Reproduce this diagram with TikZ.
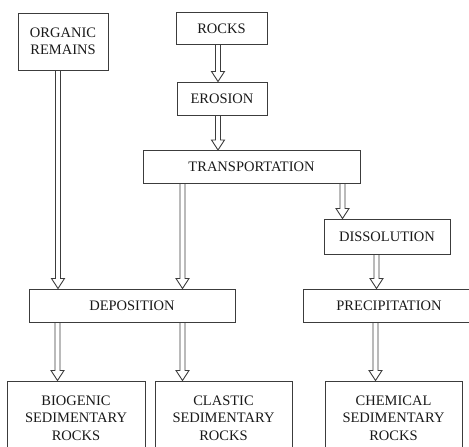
\documentclass[tikz,border=0pt]{standalone}
\usepackage{fontspec}
\setmainfont{Liberation Serif}
\usetikzlibrary{calc}
\definecolor{frame}{RGB}{60,60,60}
\tikzset{
  box/.style={rectangle, draw=frame, line width=1pt, align=center,
              inner sep=0pt, text=black!90, font=\fontsize{14.5}{17.5}\selectfont},
  hollow/.style={draw=frame, line width=0.9pt, line join=miter,
                 to path={let \p1=(\tikztostart), \p2=(\tikztotarget) in
                   (\x1-2.5pt,\y1) -- (\x1-2.5pt,\y2+10pt) -- (\x1-6.5pt,\y2+10pt)
                   -- (\x1,\y2) -- (\x1+6.5pt,\y2+10pt) -- (\x1+2.5pt,\y2+10pt)
                   -- (\x1+2.5pt,\y1)}},
}
\begin{document}
\begin{tikzpicture}[x=1pt, y=-1pt]
  \useasboundingbox (0,0) rectangle (469,447);
  \clip (0,0) rectangle (469,447);
  % top row
  \node[box, minimum width=90pt, minimum height=57pt] (organic) at (63,41.5) {ORGANIC\\REMAINS};
  \node[box, minimum width=91pt, minimum height=32pt] (rocks) at (221.5,28.5) {ROCKS};
  \node[box, minimum width=90pt, minimum height=33pt] (erosion) at (222,98.5) {EROSION};
  \node[box, minimum width=217pt, minimum height=33pt] (transport) at (251.5,167) {TRANSPORTATION};
  \node[box, minimum width=126pt, minimum height=35pt] (dissolution) at (387,236.5) {DISSOLUTION};
  % middle row
  \node[box, minimum width=206pt, minimum height=33pt] (deposition) at (132,305.5) {DEPOSITION};
  \node[box, minimum width=172pt, minimum height=33pt] (precipitation) at (389,305.5) {PRECIPITATION};
  % bottom row
  \node[box, minimum width=138pt, minimum height=74pt] (biogenic) at (76,418) {BIOGENIC\\SEDIMENTARY\\ROCKS};
  \node[box, minimum width=137pt, minimum height=74pt] (clastic) at (223.5,418) {CLASTIC\\SEDIMENTARY\\ROCKS};
  \node[box, minimum width=137pt, minimum height=74pt] (chemical) at (393.5,418) {CHEMICAL\\SEDIMENTARY\\ROCKS};
  % arrows
  \draw[hollow] ([xshift=-5pt]organic.south) to ([xshift=-5pt]organic.south |- deposition.north);
  \draw[hollow] ([xshift=-3.5pt]rocks.south) to ([xshift=-3.5pt]rocks.south |- erosion.north);
  \draw[hollow] ([xshift=-4pt]erosion.south) to ([xshift=-4pt]erosion.south |- transport.north);
  \draw[hollow] ([xshift=40pt]transport.south west) to ([xshift=40pt]transport.south west |- deposition.north);
  \draw[hollow] ([xshift=-18pt]transport.south east) to ([xshift=-18pt]transport.south east |- dissolution.north);
  \draw[hollow] ([xshift=53pt]dissolution.south west) to ([xshift=53pt]dissolution.south west |- precipitation.north);
  \draw[hollow] ([xshift=29pt]deposition.south west) to ([xshift=29pt]deposition.south west |- biogenic.north);
  \draw[hollow] ([xshift=154pt]deposition.south west) to ([xshift=154pt]deposition.south west |- clastic.north);
  \draw[hollow] ([xshift=73pt]precipitation.south west) to ([xshift=73pt]precipitation.south west |- chemical.north);
\end{tikzpicture}
\end{document}
